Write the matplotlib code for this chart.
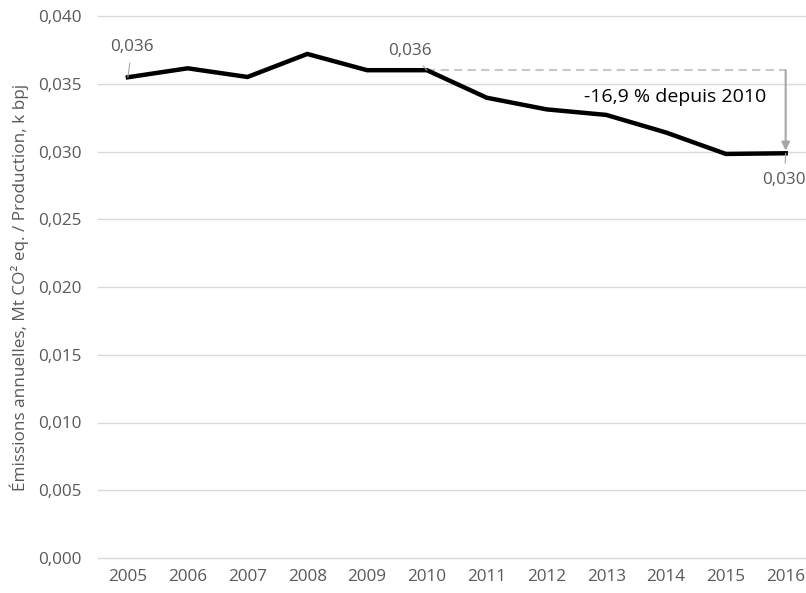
import matplotlib.pyplot as plt

plt.rcParams['font.family'] = ['Open Sans', 'DejaVu Sans']

annees = ['2005', '2006', '2007', '2008', '2009', '2010',
          '2011', '2012', '2013', '2014', '2015', '2016']
intensite = [0.03548, 0.03614, 0.0355, 0.0372, 0.0360, 0.0360,
             0.03397, 0.03311, 0.0327, 0.0314, 0.02982, 0.02987]
yticks = [0.000, 0.005, 0.010, 0.015, 0.020, 0.025, 0.030, 0.035, 0.040]
ytick_labels = ['0,000', '0,005', '0,010', '0,015', '0,020', '0,025',
                '0,030', '0,035', '0,040']
texte_baisse = '-16,9 % depuis 2010'

gris = '#595959'
x = list(range(len(annees)))

fig = plt.figure(figsize=(8.06, 5.93), dpi=100)
W, H = 806, 593
ax = fig.add_axes([98 / W, (H - 558) / H, (806 - 98) / W, (558 - 16) / H])

ax.plot(x, intensite, color='black', linewidth=3.2, solid_joinstyle='miter', zorder=3)

ax.set_xlim(-0.5, 11.34)
ax.set_ylim(0, 0.040)
ax.set_xticks(x)
ax.set_xticklabels(annees)
ax.set_yticks(yticks)
ax.set_yticklabels(ytick_labels)
ax.tick_params(length=0, labelsize=12.3, colors=gris, pad=8)
ax.tick_params(axis='y', pad=12)
for s in ax.spines.values():
    s.set_visible(False)
ax.grid(axis='y', color='#d9d9d9', linewidth=1)
ax.set_axisbelow(True)
for gl in ax.get_ygridlines():
    gl.set_clip_on(False)

ax.set_ylabel('Émissions annuelles, Mt CO² eq. / Production, k bpj',
              fontsize=12.3, color=gris, labelpad=6)

# libellés de données
def etiquette(i, texte, dx, dy):
    ax.annotate(texte, xy=(x[i], intensite[i]), xytext=(dx, dy),
                textcoords='offset points', fontsize=12.3, color=gris,
                ha='center', va='center',
                arrowprops=dict(arrowstyle='-', color='#a6a6a6', lw=0.8,
                                shrinkA=4, shrinkB=0))

etiquette(0, '0,036', 3, 22)
etiquette(5, '0,036', -12, 14)
etiquette(11, '0,030', -1, -19)

# baisse depuis 2010
ax.plot([x[5], x[11]], [intensite[5], intensite[5]], color='#c8c8c8',
        linewidth=1.5, linestyle=(0, (4, 2.5)), zorder=2)
ax.annotate('', xy=(x[11], intensite[11] + 0.0002), xytext=(x[11], intensite[5]),
            arrowprops=dict(arrowstyle='-|>', color='#a6a6a6', lw=1.5,
                            mutation_scale=12, shrinkA=0, shrinkB=0))
ax.text(x[11] - 0.32, 0.0340, texte_baisse, fontsize=14, color='black',
        ha='right', va='center')

fig.savefig('out.png', dpi=100)
